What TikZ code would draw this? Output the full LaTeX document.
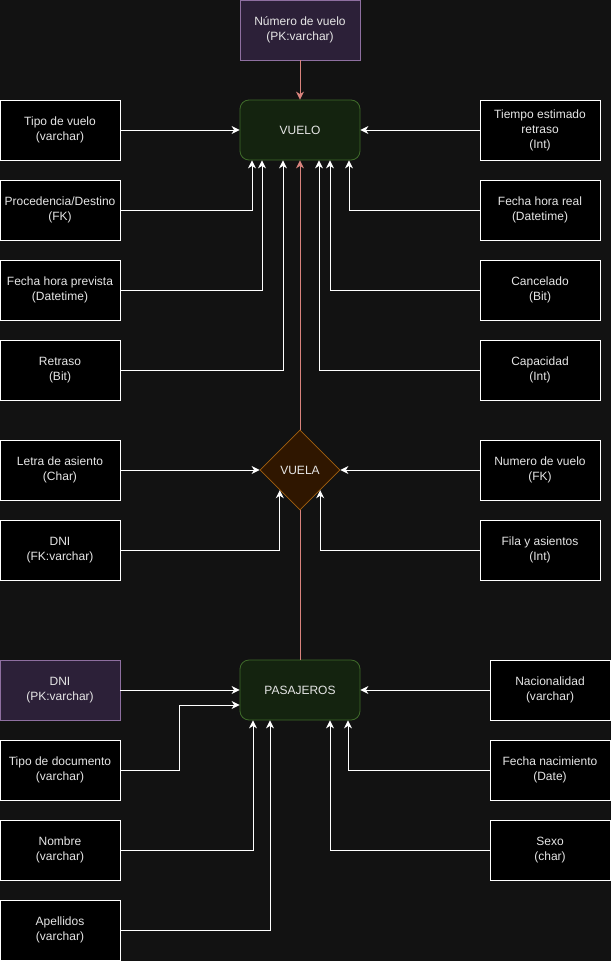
\documentclass[tikz,border=0pt]{standalone}
\usepackage{fontspec}
\setmainfont{Liberation Sans}
\usetikzlibrary{shapes.geometric,arrows.meta}
\definecolor{bgc}{HTML}{121212}
\definecolor{txt}{HTML}{E6E6E6}
\definecolor{pkfill}{HTML}{2C2038}
\definecolor{pkdraw}{HTML}{8E6FA0}
\definecolor{entfill}{HTML}{14230F}
\definecolor{entdraw}{HTML}{3F6A2A}
\definecolor{relfill}{HTML}{2F1600}
\definecolor{reldraw}{HTML}{A3600F}
\definecolor{redline}{HTML}{D9837D}
\tikzset{
  attr/.style={rectangle, draw=white, fill=black, minimum width=120pt, minimum height=60pt,
    inner sep=0pt, align=center, text=txt, font=\fontsize{12}{15}\selectfont, line width=0.8pt,
    execute at begin node={\vspace*{1.5pt}}},
  pkattr/.style={attr, draw=pkdraw, fill=pkfill},
  entity/.style={rectangle, rounded corners=9pt, draw=entdraw, fill=entfill, minimum width=120pt,
    minimum height=60pt, text=txt, font=\fontsize{12}{15}\selectfont, line width=0.8pt},
  relation/.style={diamond, aspect=1, draw=reldraw, fill=relfill, minimum width=80pt, minimum height=80pt,
    inner sep=0pt, text=txt, font=\fontsize{12}{15}\selectfont, line width=0.8pt},
  conn/.style={draw=white, line width=0.9pt, -{Stealth[length=8pt,width=8pt,inset=2.5pt]}},
  redconn/.style={draw=redline, line width=0.9pt, -{Stealth[length=8pt,width=8pt,inset=2.5pt]}},
}
\begin{document}
\begin{tikzpicture}[x=1pt,y=-1pt]
\fill[bgc] (0,0) rectangle (611,961);
\useasboundingbox (0,0) rectangle (611,961);
% entities
\node[pkattr] (num) at (300,30) {Número de vuelo\\(PK:varchar)};
\node[entity] (vuelo) at (300,130) {VUELO};
\node[entity] (pas) at (300,690) {PASAJEROS};
% left attributes of VUELO
\node[attr] (l1) at (60,130) {Tipo de vuelo\\(varchar)};
\node[attr] (l2) at (60,210) {Procedencia/Destino\\(FK)};
\node[attr] (l3) at (60,290) {Fecha hora prevista\\(Datetime)};
\node[attr] (l4) at (60,370) {Retraso\\(Bit)};
% right attributes of VUELO
\node[attr] (r1) at (540,130) {Tiempo estimado\\retraso\\(Int)};
\node[attr] (r2) at (540,210) {Fecha hora real\\(Datetime)};
\node[attr] (r3) at (540,290) {Cancelado\\(Bit)};
\node[attr] (r4) at (540,370) {Capacidad\\(Int)};
% relation attributes
\node[attr] (l5) at (60,470) {Letra de asiento\\(Char)};
\node[attr] (l6) at (60,550) {DNI\\(FK:varchar)};
\node[attr] (r5) at (540,470) {Numero de vuelo\\(FK)};
\node[attr] (r6) at (540,550) {Fila y asientos\\(Int)};
% PASAJEROS attributes
\node[pkattr] (l7) at (60,690) {DNI\\(PK:varchar)};
\node[attr] (l8) at (60,770) {Tipo de documento\\(varchar)};
\node[attr] (l9) at (60,850) {Nombre\\(varchar)};
\node[attr] (l10) at (60,930) {Apellidos\\(varchar)};
\node[attr] (rb1) at (550,690) {Nacionalidad\\(varchar)};
\node[attr] (rb2) at (550,770) {Fecha nacimiento\\(Date)};
\node[attr] (rb3) at (550,850) {Sexo\\(char)};
% red connectors
\draw[redconn] (num.south) -- (vuelo.north);
\draw[redconn] (pas.north) -- (vuelo.south);
% relation (drawn over the red line)
\node[relation] (vuela) at (300,470) {VUELA};
% VUELO connectors
\draw[conn] (l1.east) -- (vuelo.west);
\draw[conn] (l2.east) -| ([xshift=-48pt]vuelo.south);
\draw[conn] (l3.east) -| ([xshift=-38pt]vuelo.south);
\draw[conn] (l4.east) -| ([xshift=-17pt]vuelo.south);
\draw[conn] (r1.west) -- (vuelo.east);
\draw[conn] (r2.west) -| ([xshift=49pt]vuelo.south);
\draw[conn] (r3.west) -| ([xshift=30pt]vuelo.south);
\draw[conn] (r4.west) -| ([xshift=19pt]vuelo.south);
% VUELA connectors
\draw[conn] (l5.east) -- (vuela.west);
\draw[conn] (r5.west) -- (vuela.east);
\draw[conn] (l6.east) -| (vuela.south west);
\draw[conn] (r6.west) -| (vuela.south east);
% PASAJEROS connectors
\draw[conn] (l7.east) -- (pas.west);
\draw[conn] (l8.east) -| ([xshift=-60pt,yshift=-15pt]pas.west) -- ([yshift=-15pt]pas.west);
\draw[conn] (l9.east) -| ([xshift=-47pt]pas.south);
\draw[conn] (l10.east) -| ([xshift=-30pt]pas.south);
\draw[conn] (rb1.west) -- (pas.east);
\draw[conn] (rb2.west) -| ([xshift=48pt]pas.south);
\draw[conn] (rb3.west) -| ([xshift=30pt]pas.south);
\end{tikzpicture}
\end{document}
